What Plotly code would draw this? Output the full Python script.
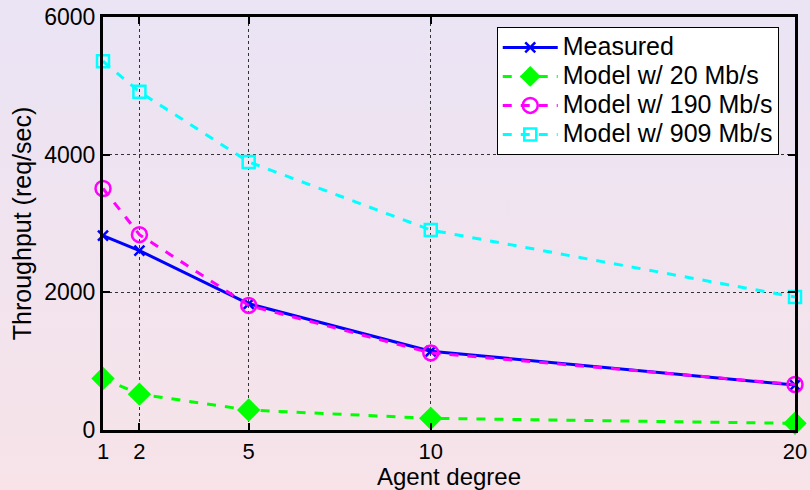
import base64
import plotly.graph_objects as go

degree = [1, 2, 5, 10, 20]
measured = [2823, 2606, 1834, 1144, 652]
model_20 = [748, 521, 290, 169, 97]
model_190 = [3509, 2838, 1810, 1120, 661]
model_909 = [5357, 4913, 3895, 2905, 1931]

series_names = ["Measured", "Model w/ 20 Mb/s", "Model w/ 190 Mb/s", "Model w/ 909 Mb/s"]

x_ticks = [1, 2, 5, 10, 20]
y_ticks = [0, 2000, 4000, 6000]

FONT = "Liberation Sans, Arial, sans-serif"


def legend_name(s):
    return '<span style="font-size:25px">' + s + '</span>'


svg = ('<svg xmlns="http://www.w3.org/2000/svg" width="100" height="100" preserveAspectRatio="none">'
       '<defs><linearGradient id="g" x1="0" y1="0" x2="0" y2="1">'
       '<stop offset="0" stop-color="#e8e4f6"/><stop offset="1" stop-color="#f9e3e7"/>'
       '</linearGradient></defs><rect width="100" height="100" fill="url(#g)"/></svg>')
src = "data:image/svg+xml;base64," + base64.b64encode(svg.encode()).decode()

fig = go.Figure()
fig.add_trace(go.Scatter(x=degree, y=measured, name=legend_name(series_names[0]), mode="lines+markers",
                         line=dict(color="#0000ff", width=3),
                         marker=dict(symbol="x-thin-open", size=10, color="#0000ff",
                                     line=dict(width=2.5, color="#0000ff")),
                         cliponaxis=False))
fig.add_trace(go.Scatter(x=degree, y=model_20, name=legend_name(series_names[1]), mode="lines+markers",
                         line=dict(color="#00ff00", width=3, dash="dash"),
                         marker=dict(symbol="diamond", size=18, color="#00ff00"),
                         cliponaxis=False))
fig.add_trace(go.Scatter(x=degree, y=model_190, name=legend_name(series_names[2]), mode="lines+markers",
                         line=dict(color="#ff00ff", width=3, dash="dash"),
                         marker=dict(symbol="circle-open", size=15, color="#ff00ff",
                                     line=dict(width=2.5, color="#ff00ff")),
                         cliponaxis=False))
fig.add_trace(go.Scatter(x=degree, y=model_909, name=legend_name(series_names[3]), mode="lines+markers",
                         line=dict(color="#00ffff", width=3, dash="dash"),
                         marker=dict(symbol="square-open", size=12, color="#00ffff",
                                     line=dict(width=2.5, color="#00ffff")),
                         cliponaxis=False))

fig.update_layout(
    width=810, height=490,
    margin=dict(l=103, r=15, t=17, b=60, pad=0),
    paper_bgcolor="#f0e4ee",
    plot_bgcolor="white",
    font=dict(family=FONT, size=22, color="black"),
    showlegend=True,
    legend=dict(x=0.569, y=0.976, xanchor="left", yanchor="top",
                bgcolor="white", bordercolor="black", borderwidth=1,
                font=dict(family=FONT, size=20, color="black"),
                tracegroupgap=0, itemwidth=55),
    images=[dict(source=src, xref="paper", yref="paper", x=-0.2, y=1.2,
                 sizex=1.4, sizey=1.5, sizing="stretch", layer="below",
                 xanchor="left", yanchor="top")],
)
fig.update_xaxes(range=[1, 20], tickvals=x_ticks, ticktext=[str(v) for v in x_ticks],
                 automargin=False,
                 showline=True, linecolor="black", linewidth=3, mirror="allticks",
                 ticks="inside", ticklen=7, tickwidth=2, tickcolor="black",
                 showgrid=True, gridcolor="#333333", gridwidth=1, griddash="dot",
                 zeroline=False,
                 title=dict(text="Agent degree", standoff=0, font=dict(size=24)),
                 tickfont=dict(size=22))
fig.update_yaxes(range=[0, 6000], tickvals=y_ticks, ticktext=[str(v) for v in y_ticks],
                 automargin=False,
                 showline=True, linecolor="black", linewidth=3, mirror="allticks",
                 ticks="inside", ticklen=7, tickwidth=2, tickcolor="black",
                 showgrid=True, gridcolor="#333333", gridwidth=1, griddash="dot",
                 zeroline=False,
                 title=dict(text="Throughput (req/sec)", standoff=6, font=dict(size=25)),
                 tickfont=dict(size=23))

fig.write_html("out.html")
